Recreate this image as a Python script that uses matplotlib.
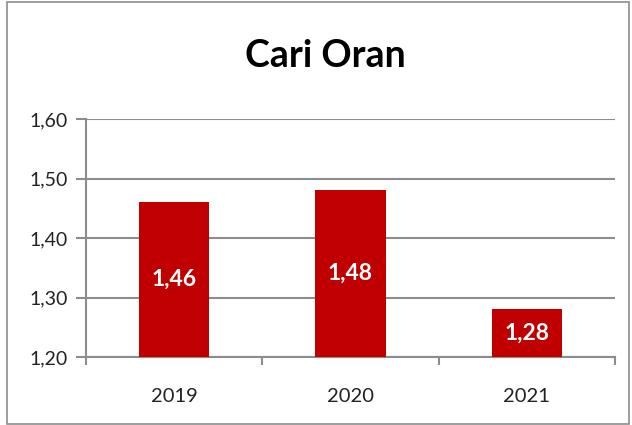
import matplotlib.pyplot as plt
from matplotlib.patches import Rectangle

years = ['2019', '2020', '2021']
values = [1.46, 1.48, 1.28]
labels = ['1,46', '1,48', '1,28']
yticks = [1.20, 1.30, 1.40, 1.50, 1.60]
ytick_labels = ['1,20', '1,30', '1,40', '1,50', '1,60']

plt.rcParams['font.family'] = ['Lato', 'DejaVu Sans']

fig = plt.figure(figsize=(6.32, 4.25), dpi=100)
ax = fig.add_axes([86/632, 1 - 357/425, (615-86)/632, (357-119)/425])

# outer border of the chart
fig.patches.append(Rectangle((7/632, 0.002), 622/632, 0.994, transform=fig.transFigure,
                             fill=False, edgecolor='#8c8c8c', linewidth=1.2))

x = range(len(years))
bars = ax.bar(x, [v - 1.2 for v in values], bottom=1.2, width=0.4, color='#c00000', zorder=3)
for xi, v, lab in zip(x, values, labels):
    ax.text(xi, (v + 1.2) / 2, lab, ha='center', va='center', color='white',
            fontsize=16.5, fontweight='bold', zorder=4)

ax.set_xlim(-0.5, 2.5)
ax.set_ylim(1.2, 1.6)
ax.set_yticks(yticks)
ax.set_yticklabels(ytick_labels, fontsize=14, color='#222222')
ax.set_xticks(x)
ax.set_xticklabels(years, fontsize=14.5, color='#222222')
ax.set_xticks([-0.5, 0.5, 1.5, 2.5], minor=True)
ax.tick_params(axis='x', which='major', length=0, pad=22)
ax.tick_params(axis='x', which='minor', length=6, width=1.5, color='#8c8c8c')
ax.tick_params(axis='y', length=7, width=1.5, color='#8c8c8c', pad=6)
ax.yaxis.grid(True, color='#8c8c8c', linewidth=1.5, zorder=0)
for side in ['top', 'right']:
    ax.spines[side].set_visible(False)
for side in ['left', 'bottom']:
    ax.spines[side].set_color('#8c8c8c')
    ax.spines[side].set_linewidth(1.5)

fig.text(0.515, 1 - 56/425, 'Cari Oran', ha='center', va='center', fontsize=27, fontweight='bold')

fig.savefig('out.png', dpi=100)
